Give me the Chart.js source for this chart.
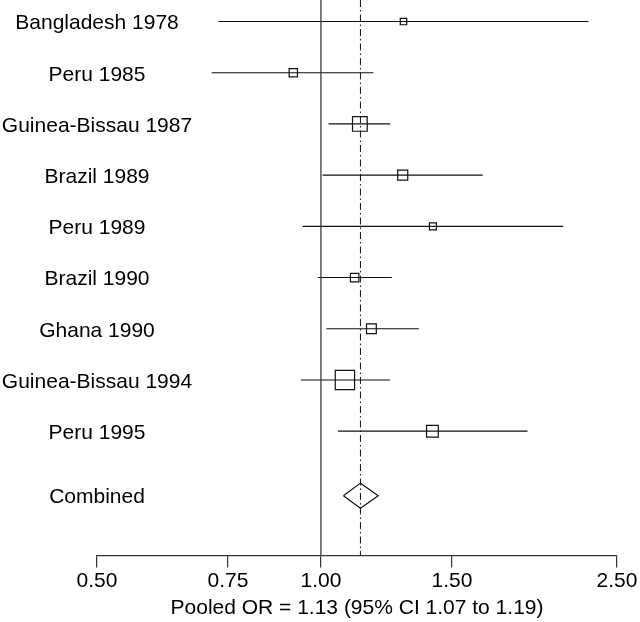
<!DOCTYPE html>
<html>
<head>
<meta charset="utf-8">
<script src="https://cdn.jsdelivr.net/npm/chart.js@4"></script>
<style>
html,body{margin:0;padding:0;background:#fff;}
#wrap{width:640px;height:622px;}
</style>
</head>
<body>
<div id="wrap"><canvas id="c" width="640" height="622"></canvas></div>
<script>
// ---- data ----
const studies = ['Bangladesh 1978','Peru 1985','Guinea-Bissau 1987','Brazil 1989','Peru 1989','Brazil 1990','Ghana 1990','Guinea-Bissau 1994','Peru 1995'];
const oddsRatio = [1.291, 0.918, 1.128, 1.288, 1.414, 1.110, 1.169, 1.077, 1.412];
const ciLow     = [0.728, 0.713, 1.024, 1.005, 0.945, 0.990, 1.017, 0.940, 1.054];
const ciHigh    = [2.289, 1.176, 1.239, 1.650, 2.117, 1.245, 1.354, 1.239, 1.895];
const weights   = [3.6, 6.0, 18.7, 8.7, 4.2, 6.2, 8.3, 32.2, 12.0];
const pooledLabel = 'Combined';
const pooled = [1.13];
const pooledCI = [1.072, 1.194];
const nullValue = [1.0];
const tickValues = [0.5, 0.75, 1.0, 1.5, 2.5];
const tickLabels = ['0.50', '0.75', '1.00', '1.50', '2.50'];
const axisTitle = 'Pooled OR = 1.13 (95% CI 1.07 to 1.19)';

// ---- layout constants ----
const FONT = '"Liberation Sans", Arial, Helvetica, sans-serif';
const FS = 21;
const Y_MIN = -0.42, Y_MAX = 10.43;
const combinedRow = studies.length + 0.26;
const diamondHalf = 0.245;
const sideK = 3.4;

const datasets = [];
// reference lines
datasets.push({
  data: [{x: nullValue[0], y: Y_MIN}, {x: nullValue[0], y: Y_MAX}],
  showLine: true, borderColor: '#3a3a3a', borderWidth: 1.3, pointRadius: 0
});
datasets.push({
  data: [{x: pooled[0], y: Y_MIN}, {x: pooled[0], y: Y_MAX}],
  showLine: true, borderColor: '#111', borderWidth: 1, borderDash: [7, 3, 1.5, 3], pointRadius: 0
});
// CI lines
studies.forEach((s, i) => {
  datasets.push({
    data: [{x: ciLow[i], y: i}, {x: ciHigh[i], y: i}],
    showLine: true, borderColor: '#111', borderWidth: 1.1, pointRadius: 0
  });
});
// squares
datasets.push({
  data: studies.map((s, i) => ({x: oddsRatio[i], y: i})),
  showLine: false,
  pointStyle: 'rect',
  pointRadius: studies.map((s, i) => sideK * Math.sqrt(weights[i]) / Math.SQRT2),
  pointBorderColor: '#111',
  pointBackgroundColor: 'rgba(0,0,0,0)',
  pointBorderWidth: 1.2
});
// diamond
datasets.push({
  data: [
    {x: pooledCI[0], y: combinedRow},
    {x: pooled[0], y: combinedRow - diamondHalf},
    {x: pooledCI[1], y: combinedRow},
    {x: pooled[0], y: combinedRow + diamondHalf},
    {x: pooledCI[0], y: combinedRow}
  ],
  showLine: true, borderColor: '#111', borderWidth: 1.2, pointRadius: 0, tension: 0
});

const labelPlugin = {
  id: 'rowLabels',
  afterDatasetsDraw(chart) {
    const ctx = chart.ctx;
    const y = chart.scales.y;
    const cx = chart.chartArea.left;
    ctx.save();
    ctx.fillStyle = '#000';
    ctx.font = FS + 'px ' + FONT;
    ctx.textAlign = 'center';
    ctx.textBaseline = 'middle';
    studies.forEach((s, i) => ctx.fillText(s, cx, y.getPixelForValue(i) + 2));
    ctx.fillText(pooledLabel, cx, y.getPixelForValue(combinedRow) + 2);
    ctx.restore();
  }
};

new Chart(document.getElementById('c'), {
  type: 'scatter',
  data: { datasets },
  options: {
    responsive: false,
    animation: false,
    events: [],
    layout: { autoPadding: false, padding: { left: 97, right: 23, top: 0, bottom: 0 } },
    plugins: { legend: { display: false }, tooltip: { enabled: false } },
    scales: {
      x: {
        type: 'logarithmic',
        min: tickValues[0], max: tickValues[tickValues.length - 1],
        afterBuildTicks(axis) { axis.ticks = tickValues.map(v => ({ value: v })); },
        ticks: {
          autoSkip: false, maxRotation: 0, padding: 1, color: '#000',
          font: { family: FONT, size: FS },
          callback: (v, i) => tickLabels[i]
        },
        grid: { drawOnChartArea: false, drawTicks: true, tickLength: 12, color: '#333', lineWidth: 1.2 },
        border: { display: true, color: '#333', width: 1.2 },
        title: { display: true, text: axisTitle, color: '#000', font: { family: FONT, size: FS }, padding: { top: 1, bottom: 1 } }
      },
      y: {
        type: 'linear', reverse: true, min: Y_MIN, max: Y_MAX, display: false
      }
    }
  },
  plugins: [labelPlugin]
});
</script>
</body>
</html>
